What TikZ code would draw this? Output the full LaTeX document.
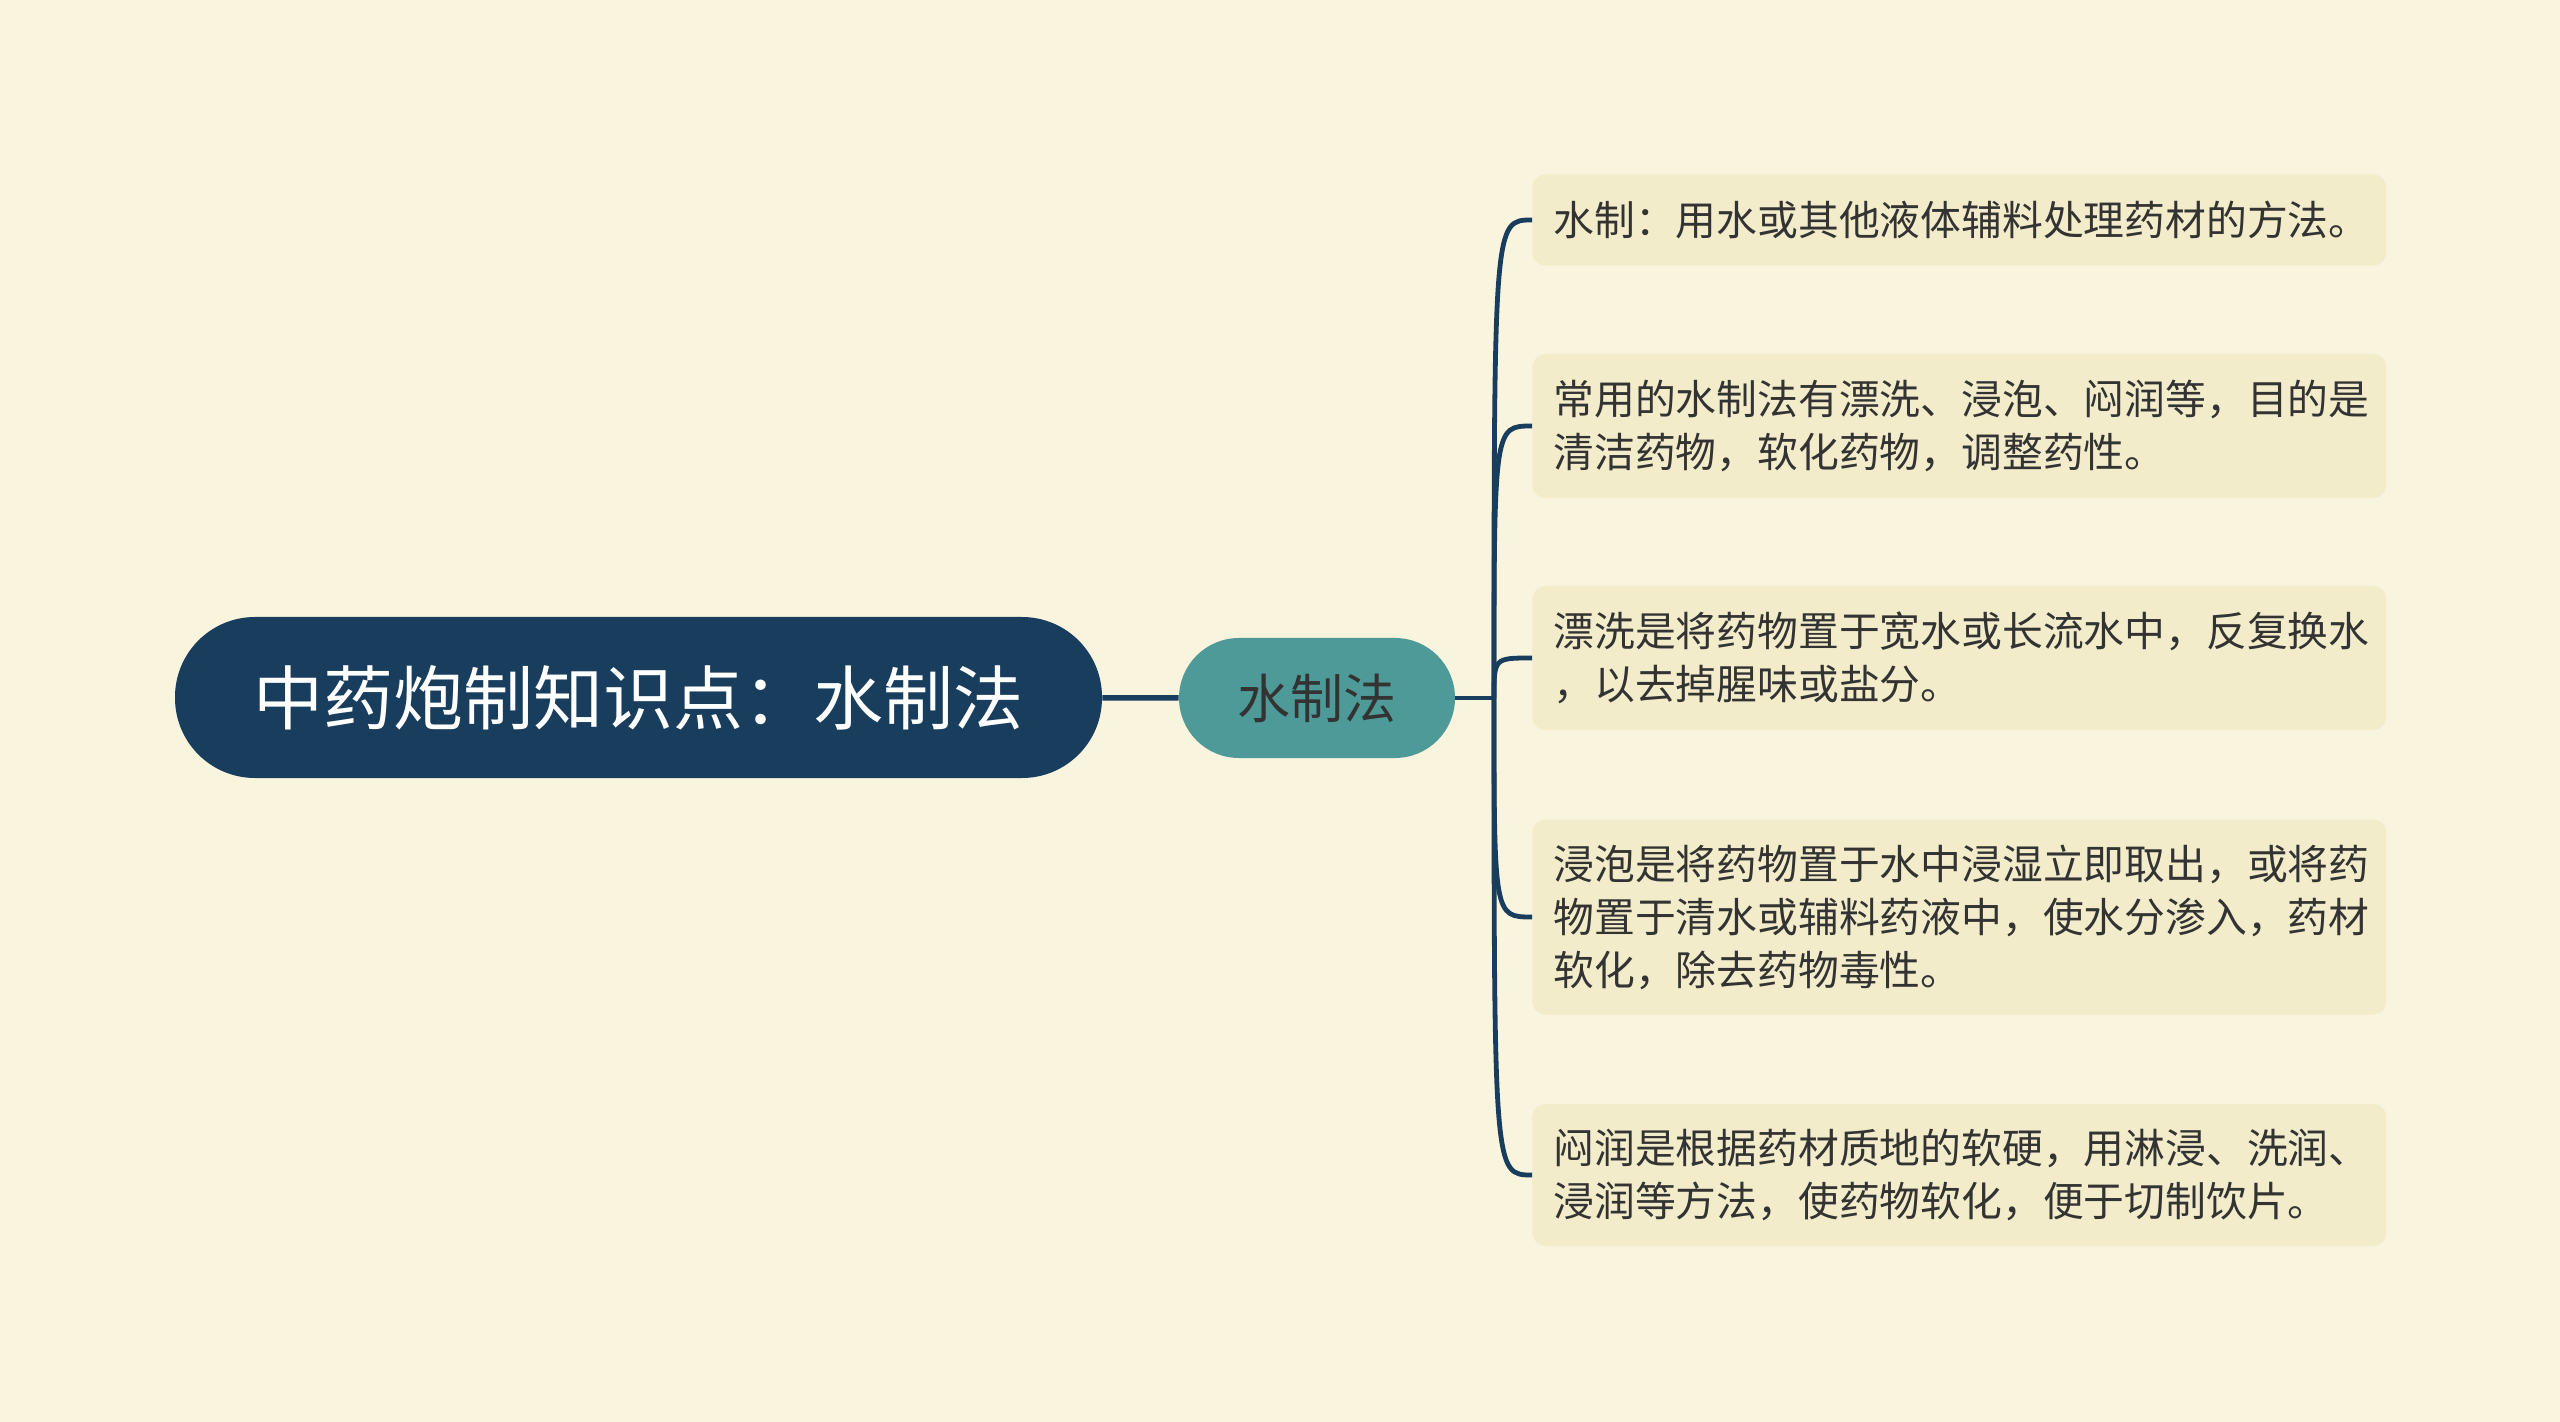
\documentclass[tikz,border=0pt]{standalone}
\usepackage{fontspec}
\setmainfont{Noto Sans CJK SC}
\definecolor{paper}{HTML}{F8F4DE}
\definecolor{navy}{HTML}{183D5D}
\definecolor{teal}{HTML}{4E9A98}
\definecolor{leafbg}{HTML}{F3ECCB}
\definecolor{ink}{HTML}{333333}
\tikzset{
  root/.style={fill=navy, text=white, rounded corners=40pt, minimum width=463.5pt,
    minimum height=80.5pt, font=\fontsize{35}{40}\selectfont},
  sub/.style={fill=teal, text=ink, rounded corners=30pt, minimum width=138pt,
    minimum height=60pt, font=\fontsize{26.5}{30}\selectfont},
  leaf/.style={fill=leafbg, text=ink, rounded corners=6.5pt, anchor=west, align=left,
    text width=406pt, inner xsep=10.5pt, inner ysep=0pt, font=\fontsize{20.4}{26.5}\selectfont},
  link/.style={draw=navy, line width=2.4pt},
}
\begin{document}
\begin{tikzpicture}[x=0.5pt, y=-0.5pt]
  \useasboundingbox[fill=paper] (0,0) rectangle (2560,1422);

  \node[root] (root) at (638.5,697.5) {中药炮制知识点：水制法};
  \node[sub] (water) at (1317,698) {水制法};
  \coordinate (j) at (1494,698);

  \node[leaf, minimum height=45.5pt] (l1) at (1532,220) {水制：用水或其他液体辅料处理药材的方法。};
  \node[leaf, minimum height=72pt] (l2) at (1532,426) {常用的水制法有漂洗、浸泡、闷润等，目的是\\清洁药物，软化药物，调整药性。};
  \node[leaf, minimum height=72pt] (l3) at (1532,658) {漂洗是将药物置于宽水或长流水中，反复换水\\，以去掉腥味或盐分。};
  \node[leaf, minimum height=97.5pt] (l4) at (1532,917) {浸泡是将药物置于水中浸湿立即取出，或将药\\物置于清水或辅料药液中，使水分渗入，药材\\软化，除去药物毒性。};
  \node[leaf, minimum height=71pt] (l5) at (1532,1175) {闷润是根据药材质地的软硬，用淋浸、洗润、\\浸润等方法，使药物软化，便于切制饮片。};

  \draw[link, line width=2.7pt] (root) -- (water);
  \draw[link] (water.east) -- (j);
  \foreach \n in {l1,l2,l3,l4,l5}
    \draw[link] (j) .. controls (j |- \n.west) and (j |- \n.west) .. (\n.west);
\end{tikzpicture}
\end{document}
